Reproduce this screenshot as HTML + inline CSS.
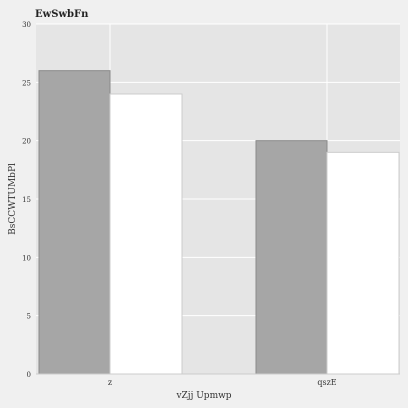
<!DOCTYPE html>
<html><head><meta charset="utf-8"><style>
body{margin:0;background:#f0f0f0;}
svg{display:block;font-family:"DejaVu Serif","Liberation Serif",serif;}
</style></head><body>
<svg id="chart" width="408" height="408">
<rect x="0" y="0" width="408" height="408" fill="#f0f0f0"/>
<text x="35" y="17" font-size="10" font-weight="bold" fill="#222">EwSwbFn</text>
<rect x="36" y="24" width="364" height="350" fill="#e5e5e5"/>
<g id="grid"></g><g id="bars"></g><g id="axes"></g>
<text x="204" y="398" font-size="9" fill="#333" text-anchor="middle">vZjj Upmwp</text>
<text transform="translate(15,199) rotate(-90)" font-size="9" fill="#333" text-anchor="middle">BsCCWTUMbPl</text>
</svg>
<script>
const categories=["z","qszE"];
const series1=[26,20];
const series2=[24,19];
const yTicks=[0,5,10,15,20,25,30];
const NS="http://www.w3.org/2000/svg";
const L=36,R=400,T=24,B=374,yMax=30;
const y=v=>B-(v/yMax)*(B-T);
const step=217, first=L+74, bw=72;
const xc=i=>first+i*step;
function mk(tag,attrs,parent){const e=document.createElementNS(NS,tag);for(const k in attrs)e.setAttribute(k,attrs[k]);parent.appendChild(e);return e;}
const grid=document.getElementById('grid'),bars=document.getElementById('bars'),axes=document.getElementById('axes');
yTicks.forEach(t=>{
  const g=mk('line',{x1:L,x2:R,y1:y(t),y2:y(t),stroke:'#fff','stroke-width':1},grid);
  
  
  const tx=mk('text',{x:L-5,y:y(t)+3,'font-size':7,fill:'#333','text-anchor':'end'},axes);
  tx.textContent=t;
  
  
});
categories.forEach((c,i)=>{
  const g=mk('line',{x1:xc(i),x2:xc(i),y1:T,y2:B,stroke:'#fff','stroke-width':1},grid);
  
  
  const b1=mk('rect',{x:xc(i)-bw+1,y:y(series1[i]),width:bw-1,height:B-y(series1[i]),fill:'#a6a6a6',stroke:'#8a8a8a','stroke-width':1},bars);
  
  
  const b2=mk('rect',{x:xc(i),y:y(series2[i]),width:bw,height:B-y(series2[i]),fill:'#fff',stroke:'#cccccc','stroke-width':1},bars);
  
  
  const tx=mk('text',{x:xc(i),y:B+11,'font-size':8,fill:'#333','text-anchor':'middle'},axes);
  tx.textContent=c;
  
  
});
const ax=mk('line',{x1:L,x2:R,y1:B,y2:B,stroke:'#ccc','stroke-width':1},axes);


</script>
</body></html>
